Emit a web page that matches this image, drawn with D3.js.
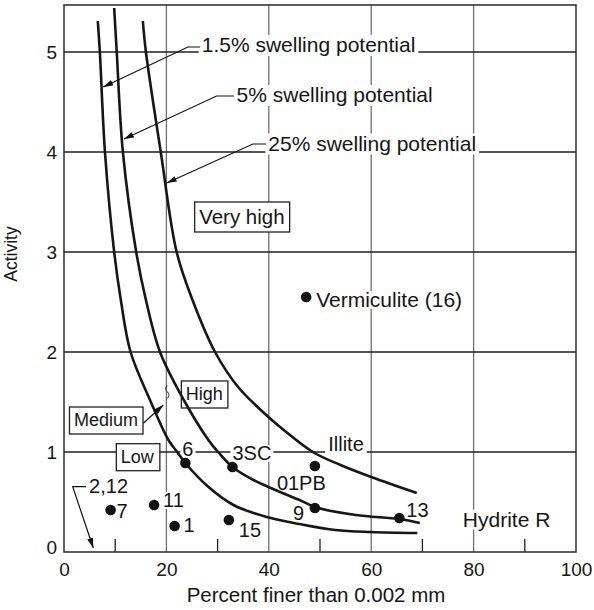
<!DOCTYPE html>
<html><head><meta charset="utf-8">
<script src="https://cdn.jsdelivr.net/npm/d3@7"></script>
<style>
body{margin:0;background:#fff}
text{font-family:"Liberation Sans",Arial,Helvetica,sans-serif;fill:#151515}
</style>
</head><body><svg id="c" width="594" height="610"></svg>
<script>
// ---------- data ----------
const xTicks = [0, 20, 40, 60, 80, 100];
const xMinorTicks = [10, 30, 50, 70, 90];
const yTicks = [0, 1, 2, 3, 4, 5];
const xGrid = [20, 40, 60, 80];
const yGrid = [1, 2, 3, 4, 5];
const xTitle = "Percent finer than 0.002 mm";
const yTitle = "Activity";

// swelling potential boundary curves [percent finer, activity]
const curve1_5 = [[6.6,5.31],[7.0,5.0],[8.0,4.0],[9.8,3.0],[11.1,2.52],[13.0,2.0],[16.8,1.52],[20.4,1.12],[22.1,1.0],[23.7,0.89],[28,0.66],[33.1,0.47],[39.6,0.35],[46,0.28],[53,0.22],[60,0.2],[69,0.19]];
const curve5 = [[9.8,5.44],[10.3,5.0],[11.5,4.0],[14.1,3.0],[16.0,2.52],[18.75,2.0],[23.4,1.52],[28.2,1.12],[30.1,1.0],[32.9,0.85],[37,0.72],[42.2,0.6],[46,0.52],[49,0.45],[57,0.37],[65.5,0.33],[69.5,0.29]];
const curve25 = [[15.4,5.31],[16.0,5.0],[18.9,4.0],[22.0,3.0],[25.1,2.52],[29.5,2.0],[34,1.65],[39.5,1.37],[42.2,1.25],[48.6,1.0],[54,0.87],[60,0.75],[68.9,0.59]];
const curveLabels = ["1.5% swelling potential", "5% swelling potential", "25% swelling potential"];

// soil samples
const sampleNames = ["7", "11", "1", "15", "6", "3SC", "01PB", "9", "13", "Vermiculite (16)"];
const samplePercent = [9.1, 17.6, 21.6, 32.2, 23.7, 32.9, 49, 49, 65.5, 47.3];
const sampleActivity = [0.42, 0.47, 0.26, 0.32, 0.89, 0.85, 0.86, 0.44, 0.34, 2.55];

// zone names
const zoneNames = ["Very high", "High", "Medium", "Low"];
const otherLabels = ["Illite", "Hydrite R", "2,12"];

// ---------- layout ----------
const svg = d3.select("#c");
const x = d3.scaleLinear().domain([0, 100]).range([64, 576]);
const y = d3.scaleLinear().domain([0, 5.47]).range([552, 5]);

const defs = svg.append("defs");
defs.append("marker").attr("id","ah").attr("viewBox","0 0 10 6").attr("refX",10).attr("refY",3)
  .attr("markerWidth",10).attr("markerHeight",6).attr("markerUnits","userSpaceOnUse").attr("orient","auto")
  .append("path").attr("d","M0,0L10,3L0,6Z").attr("fill","#111");

// grid
svg.append("g").selectAll("line").data(xGrid).join("line")
  .attr("x1", d=>x(d)).attr("x2", d=>x(d)).attr("y1", y(0)).attr("y2", y(5.47))
  .attr("stroke", "#707070").attr("stroke-width", 1.3);
svg.append("g").selectAll("line").data(yGrid).join("line")
  .attr("x1", x(0)).attr("x2", x(100)).attr("y1", d=>y(d)).attr("y2", d=>y(d))
  .attr("stroke", "#1e1e1e").attr("stroke-width", 1.3);
// minor ticks
svg.append("g").selectAll("line").data(xMinorTicks).join("line")
  .attr("x1", d=>x(d)).attr("x2", d=>x(d)).attr("y1", y(0)).attr("y2", y(0)-13)
  .attr("stroke", "#1e1e1e").attr("stroke-width", 1.3);

const bgLayer = svg.append("g");
const lineLayer = svg.append("g");
const textLayer = svg.append("g");

// frame
svg.append("rect").attr("x", x(0)).attr("y", y(5.47)).attr("width", x(100)-x(0)).attr("height", y(0)-y(5.47))
  .attr("fill", "none").attr("stroke", "#2a2a2a").attr("stroke-width", 1.5);

// axes
const xa = svg.append("g").attr("transform", `translate(0,${y(0)})`)
  .call(d3.axisBottom(x).tickValues(xTicks).tickSize(0).tickPadding(11).tickFormat(d3.format("d")));
xa.select(".domain").remove();
xa.selectAll("text").attr("font-size", 19).attr("font-family", null).style("fill", "#151515");
const ya = svg.append("g").attr("transform", `translate(${x(0)},0)`)
  .call(d3.axisLeft(y).tickValues(yTicks).tickSize(0).tickPadding(7).tickFormat(d3.format("d")));
ya.select(".domain").remove();
ya.selectAll("text").attr("font-size", 19).attr("font-family", null).style("fill", "#151515");
ya.selectAll(".tick").filter(d=>d===0).select("text").attr("dy", "0.1em");

svg.append("text").attr("x", 316).attr("y", 602).attr("text-anchor", "middle").attr("font-size", 20.5).text(xTitle);
svg.append("text").attr("transform", "translate(17,254) rotate(-90)").attr("text-anchor", "middle").attr("font-size", 17.5).text(yTitle);

// helper: text with white background
function label(txt, px, py, size, opts={}) {
  const t = textLayer.append("text").attr("x", px).attr("y", py).attr("font-size", size).text(txt);
  const b = t.node().getBBox();
  const p = opts.pad ?? 2;
  bgLayer.append("rect").attr("x", b.x-p).attr("y", b.y+ (opts.top??3)).attr("width", b.width+2*p).attr("height", b.height-(opts.top??3)-(opts.bot??2))
    .attr("fill", "#fff");
  if (opts.box) {
    textLayer.append("rect").attr("x", b.x-opts.box[0]).attr("y", b.y-opts.box[1])
      .attr("width", b.width+opts.box[0]+opts.box[2]).attr("height", b.height+opts.box[1]+opts.box[3])
      .attr("fill", "none").attr("stroke", "#222").attr("stroke-width", 1.3);
    bgLayer.append("rect").attr("x", b.x-opts.box[0]).attr("y", b.y-opts.box[1])
      .attr("width", b.width+opts.box[0]+opts.box[2]).attr("height", b.height+opts.box[1]+opts.box[3]).attr("fill","#fff");
  }
  return t;
}

// curves
const line = d3.line().x(d=>x(d[0])).y(d=>y(d[1])).curve(d3.curveCatmullRom.alpha(0.5));
lineLayer.selectAll("path.curve").data([curve1_5, curve5, curve25]).join("path")
  .attr("class","curve").attr("d", line).attr("fill","none").attr("stroke","#161616").attr("stroke-width",2.6);

// curve labels + leaders
const curveLabelPos = [[26.9,5.0],[33.7,4.5],[39.9,4.015]];
const leaders = [
  [[26.6,5.05],[24.2,5.05],[7.66,4.65]],
  [[33.2,4.56],[29.8,4.56],[11.72,4.13]],
  [[39.5,4.08],[36.9,4.08],[20.06,3.69]]
];
curveLabels.forEach((s,i)=>label(s, x(curveLabelPos[i][0]), y(curveLabelPos[i][1]), 21, {pad:3, top:2, bot:0}));
const pl = d3.line().x(d=>x(d[0])).y(d=>y(d[1]));
lineLayer.selectAll("path.leader").data(leaders).join("path").attr("class","leader")
  .attr("d", pl).attr("fill","none").attr("stroke","#111").attr("stroke-width",1.2).attr("marker-end","url(#ah)");

// 2,12 leader
lineLayer.append("path").attr("d", pl([[4.3,0.653],[1.7,0.653],[5.72,0.04]]))
  .attr("fill","none").attr("stroke","#111").attr("stroke-width",1.2).attr("marker-end","url(#ah)");
// Medium leader
lineLayer.append("path").attr("d", pl([[15.49,1.287],[19.39,1.47]]))
  .attr("fill","none").attr("stroke","#111").attr("stroke-width",1.2).attr("marker-end","url(#ah)");
// squiggle
lineLayer.append("path").attr("transform", `translate(${x(20.2)},${y(1.59)})`)
  .attr("d","M0,-7 C-3,-6 -2,-3 0,-1 C2,1 2,4 -1,6").attr("fill","none").attr("stroke","#222").attr("stroke-width",1);

// zone boxes
const zonePos = [[26.4,3.28,20.5],[23.8,1.52,18],[1.95,1.26,18],[11.1,0.893,18]];
zoneNames.forEach((s,i)=>label(s, x(zonePos[i][0]), y(zonePos[i][1]), zonePos[i][2], {box:[4.5,3,5,4]}));

// other labels
const otherPos = [[51.6,1.013],[77.9,0.253],[4.9,0.593]];
otherLabels.forEach((s,i)=>label(s, x(otherPos[i][0]), y(otherPos[i][1]), i===1?21:20, {pad:3, top:2, bot:1}));

// sample dots + labels
const labelOffsets = [[6,8],[9,2],[9,6],[10,17],[-3,-7],[0,-7],[-38,24],[-22,12],[7,-1],[10,10]];
const sampleSize = [20,20,20,20,20,20,20,20,20,21];
textLayer.selectAll("circle").data(sampleNames).join("circle")
  .attr("cx", (d,i)=>x(samplePercent[i])).attr("cy", (d,i)=>y(sampleActivity[i])).attr("r", 5.3).attr("fill","#111");
sampleNames.forEach((s,i)=>label(s, x(samplePercent[i])+labelOffsets[i][0], y(sampleActivity[i])+labelOffsets[i][1], sampleSize[i], {pad:2, top:3, bot:2}));
</script>
</body></html>
